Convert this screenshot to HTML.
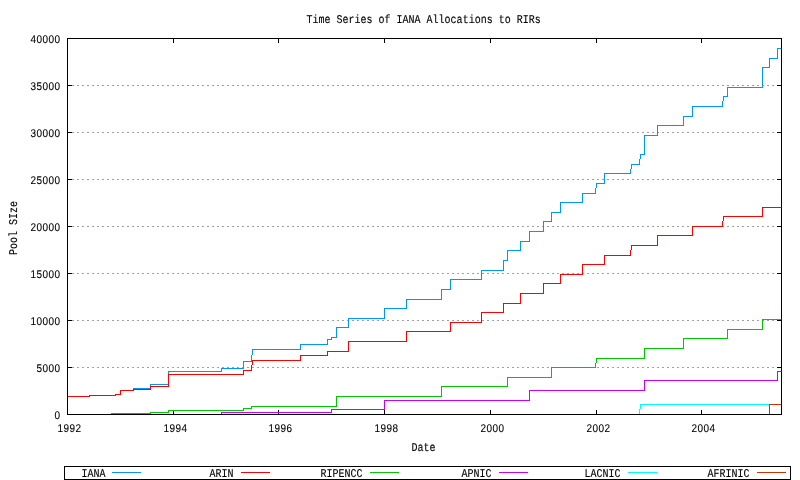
<!DOCTYPE html>
<html><head><meta charset="utf-8"><title>Time Series of IANA Allocations to RIRs</title>
<style>
html,body{margin:0;padding:0;background:#fff;}
body{width:800px;height:480px;position:relative;overflow:hidden;font-family:"Liberation Mono",monospace;}
svg.t{will-change:transform;opacity:0.999;}
svg.t text{text-rendering:geometricPrecision;font-family:"Liberation Mono",monospace;font-size:10px;fill:#000;stroke:#000;stroke-width:0.12px;}
svg.t text.n{stroke-width:0.1px;font-family:"Liberation Sans",sans-serif;font-size:10px;letter-spacing:0.44px;}
</style></head><body>
<svg width="800" height="480" viewBox="0 0 800 480" shape-rendering="crispEdges" style="position:absolute;left:0;top:0">
<rect width="800" height="480" fill="#fff"/>
<path fill="#a0a0a0" d="M72 85h2v1h-2zM77 85h2v1h-2zM82 85h2v1h-2zM87 85h2v1h-2zM92 85h2v1h-2zM97 85h2v1h-2zM102 85h2v1h-2zM107 85h2v1h-2zM112 85h2v1h-2zM117 85h2v1h-2zM122 85h2v1h-2zM127 85h2v1h-2zM132 85h2v1h-2zM137 85h2v1h-2zM142 85h2v1h-2zM147 85h2v1h-2zM152 85h2v1h-2zM157 85h2v1h-2zM162 85h2v1h-2zM167 85h2v1h-2zM172 85h2v1h-2zM177 85h2v1h-2zM182 85h2v1h-2zM187 85h2v1h-2zM192 85h2v1h-2zM197 85h2v1h-2zM202 85h2v1h-2zM207 85h2v1h-2zM212 85h2v1h-2zM217 85h2v1h-2zM222 85h2v1h-2zM227 85h2v1h-2zM232 85h2v1h-2zM237 85h2v1h-2zM242 85h2v1h-2zM247 85h2v1h-2zM252 85h2v1h-2zM257 85h2v1h-2zM262 85h2v1h-2zM267 85h2v1h-2zM272 85h2v1h-2zM277 85h2v1h-2zM282 85h2v1h-2zM287 85h2v1h-2zM292 85h2v1h-2zM297 85h2v1h-2zM302 85h2v1h-2zM307 85h2v1h-2zM312 85h2v1h-2zM317 85h2v1h-2zM322 85h2v1h-2zM327 85h2v1h-2zM332 85h2v1h-2zM337 85h2v1h-2zM342 85h2v1h-2zM347 85h2v1h-2zM352 85h2v1h-2zM357 85h2v1h-2zM362 85h2v1h-2zM367 85h2v1h-2zM372 85h2v1h-2zM377 85h2v1h-2zM382 85h2v1h-2zM387 85h2v1h-2zM392 85h2v1h-2zM397 85h2v1h-2zM402 85h2v1h-2zM407 85h2v1h-2zM412 85h2v1h-2zM417 85h2v1h-2zM422 85h2v1h-2zM427 85h2v1h-2zM432 85h2v1h-2zM437 85h2v1h-2zM442 85h2v1h-2zM447 85h2v1h-2zM452 85h2v1h-2zM457 85h2v1h-2zM462 85h2v1h-2zM467 85h2v1h-2zM472 85h2v1h-2zM477 85h2v1h-2zM482 85h2v1h-2zM487 85h2v1h-2zM492 85h2v1h-2zM497 85h2v1h-2zM502 85h2v1h-2zM507 85h2v1h-2zM512 85h2v1h-2zM517 85h2v1h-2zM522 85h2v1h-2zM527 85h2v1h-2zM532 85h2v1h-2zM537 85h2v1h-2zM542 85h2v1h-2zM547 85h2v1h-2zM552 85h2v1h-2zM557 85h2v1h-2zM562 85h2v1h-2zM567 85h2v1h-2zM572 85h2v1h-2zM577 85h2v1h-2zM582 85h2v1h-2zM587 85h2v1h-2zM592 85h2v1h-2zM597 85h2v1h-2zM602 85h2v1h-2zM607 85h2v1h-2zM612 85h2v1h-2zM617 85h2v1h-2zM622 85h2v1h-2zM627 85h2v1h-2zM632 85h2v1h-2zM637 85h2v1h-2zM642 85h2v1h-2zM647 85h2v1h-2zM652 85h2v1h-2zM657 85h2v1h-2zM662 85h2v1h-2zM667 85h2v1h-2zM672 85h2v1h-2zM677 85h2v1h-2zM682 85h2v1h-2zM687 85h2v1h-2zM692 85h2v1h-2zM697 85h2v1h-2zM702 85h2v1h-2zM707 85h2v1h-2zM712 85h2v1h-2zM717 85h2v1h-2zM722 85h2v1h-2zM727 85h2v1h-2zM732 85h2v1h-2zM737 85h2v1h-2zM742 85h2v1h-2zM747 85h2v1h-2zM752 85h2v1h-2zM757 85h2v1h-2zM762 85h2v1h-2zM767 85h2v1h-2zM772 85h2v1h-2zM72 132h2v1h-2zM77 132h2v1h-2zM82 132h2v1h-2zM87 132h2v1h-2zM92 132h2v1h-2zM97 132h2v1h-2zM102 132h2v1h-2zM107 132h2v1h-2zM112 132h2v1h-2zM117 132h2v1h-2zM122 132h2v1h-2zM127 132h2v1h-2zM132 132h2v1h-2zM137 132h2v1h-2zM142 132h2v1h-2zM147 132h2v1h-2zM152 132h2v1h-2zM157 132h2v1h-2zM162 132h2v1h-2zM167 132h2v1h-2zM172 132h2v1h-2zM177 132h2v1h-2zM182 132h2v1h-2zM187 132h2v1h-2zM192 132h2v1h-2zM197 132h2v1h-2zM202 132h2v1h-2zM207 132h2v1h-2zM212 132h2v1h-2zM217 132h2v1h-2zM222 132h2v1h-2zM227 132h2v1h-2zM232 132h2v1h-2zM237 132h2v1h-2zM242 132h2v1h-2zM247 132h2v1h-2zM252 132h2v1h-2zM257 132h2v1h-2zM262 132h2v1h-2zM267 132h2v1h-2zM272 132h2v1h-2zM277 132h2v1h-2zM282 132h2v1h-2zM287 132h2v1h-2zM292 132h2v1h-2zM297 132h2v1h-2zM302 132h2v1h-2zM307 132h2v1h-2zM312 132h2v1h-2zM317 132h2v1h-2zM322 132h2v1h-2zM327 132h2v1h-2zM332 132h2v1h-2zM337 132h2v1h-2zM342 132h2v1h-2zM347 132h2v1h-2zM352 132h2v1h-2zM357 132h2v1h-2zM362 132h2v1h-2zM367 132h2v1h-2zM372 132h2v1h-2zM377 132h2v1h-2zM382 132h2v1h-2zM387 132h2v1h-2zM392 132h2v1h-2zM397 132h2v1h-2zM402 132h2v1h-2zM407 132h2v1h-2zM412 132h2v1h-2zM417 132h2v1h-2zM422 132h2v1h-2zM427 132h2v1h-2zM432 132h2v1h-2zM437 132h2v1h-2zM442 132h2v1h-2zM447 132h2v1h-2zM452 132h2v1h-2zM457 132h2v1h-2zM462 132h2v1h-2zM467 132h2v1h-2zM472 132h2v1h-2zM477 132h2v1h-2zM482 132h2v1h-2zM487 132h2v1h-2zM492 132h2v1h-2zM497 132h2v1h-2zM502 132h2v1h-2zM507 132h2v1h-2zM512 132h2v1h-2zM517 132h2v1h-2zM522 132h2v1h-2zM527 132h2v1h-2zM532 132h2v1h-2zM537 132h2v1h-2zM542 132h2v1h-2zM547 132h2v1h-2zM552 132h2v1h-2zM557 132h2v1h-2zM562 132h2v1h-2zM567 132h2v1h-2zM572 132h2v1h-2zM577 132h2v1h-2zM582 132h2v1h-2zM587 132h2v1h-2zM592 132h2v1h-2zM597 132h2v1h-2zM602 132h2v1h-2zM607 132h2v1h-2zM612 132h2v1h-2zM617 132h2v1h-2zM622 132h2v1h-2zM627 132h2v1h-2zM632 132h2v1h-2zM637 132h2v1h-2zM642 132h2v1h-2zM647 132h2v1h-2zM652 132h2v1h-2zM657 132h2v1h-2zM662 132h2v1h-2zM667 132h2v1h-2zM672 132h2v1h-2zM677 132h2v1h-2zM682 132h2v1h-2zM687 132h2v1h-2zM692 132h2v1h-2zM697 132h2v1h-2zM702 132h2v1h-2zM707 132h2v1h-2zM712 132h2v1h-2zM717 132h2v1h-2zM722 132h2v1h-2zM727 132h2v1h-2zM732 132h2v1h-2zM737 132h2v1h-2zM742 132h2v1h-2zM747 132h2v1h-2zM752 132h2v1h-2zM757 132h2v1h-2zM762 132h2v1h-2zM767 132h2v1h-2zM772 132h2v1h-2zM72 179h2v1h-2zM77 179h2v1h-2zM82 179h2v1h-2zM87 179h2v1h-2zM92 179h2v1h-2zM97 179h2v1h-2zM102 179h2v1h-2zM107 179h2v1h-2zM112 179h2v1h-2zM117 179h2v1h-2zM122 179h2v1h-2zM127 179h2v1h-2zM132 179h2v1h-2zM137 179h2v1h-2zM142 179h2v1h-2zM147 179h2v1h-2zM152 179h2v1h-2zM157 179h2v1h-2zM162 179h2v1h-2zM167 179h2v1h-2zM172 179h2v1h-2zM177 179h2v1h-2zM182 179h2v1h-2zM187 179h2v1h-2zM192 179h2v1h-2zM197 179h2v1h-2zM202 179h2v1h-2zM207 179h2v1h-2zM212 179h2v1h-2zM217 179h2v1h-2zM222 179h2v1h-2zM227 179h2v1h-2zM232 179h2v1h-2zM237 179h2v1h-2zM242 179h2v1h-2zM247 179h2v1h-2zM252 179h2v1h-2zM257 179h2v1h-2zM262 179h2v1h-2zM267 179h2v1h-2zM272 179h2v1h-2zM277 179h2v1h-2zM282 179h2v1h-2zM287 179h2v1h-2zM292 179h2v1h-2zM297 179h2v1h-2zM302 179h2v1h-2zM307 179h2v1h-2zM312 179h2v1h-2zM317 179h2v1h-2zM322 179h2v1h-2zM327 179h2v1h-2zM332 179h2v1h-2zM337 179h2v1h-2zM342 179h2v1h-2zM347 179h2v1h-2zM352 179h2v1h-2zM357 179h2v1h-2zM362 179h2v1h-2zM367 179h2v1h-2zM372 179h2v1h-2zM377 179h2v1h-2zM382 179h2v1h-2zM387 179h2v1h-2zM392 179h2v1h-2zM397 179h2v1h-2zM402 179h2v1h-2zM407 179h2v1h-2zM412 179h2v1h-2zM417 179h2v1h-2zM422 179h2v1h-2zM427 179h2v1h-2zM432 179h2v1h-2zM437 179h2v1h-2zM442 179h2v1h-2zM447 179h2v1h-2zM452 179h2v1h-2zM457 179h2v1h-2zM462 179h2v1h-2zM467 179h2v1h-2zM472 179h2v1h-2zM477 179h2v1h-2zM482 179h2v1h-2zM487 179h2v1h-2zM492 179h2v1h-2zM497 179h2v1h-2zM502 179h2v1h-2zM507 179h2v1h-2zM512 179h2v1h-2zM517 179h2v1h-2zM522 179h2v1h-2zM527 179h2v1h-2zM532 179h2v1h-2zM537 179h2v1h-2zM542 179h2v1h-2zM547 179h2v1h-2zM552 179h2v1h-2zM557 179h2v1h-2zM562 179h2v1h-2zM567 179h2v1h-2zM572 179h2v1h-2zM577 179h2v1h-2zM582 179h2v1h-2zM587 179h2v1h-2zM592 179h2v1h-2zM597 179h2v1h-2zM602 179h2v1h-2zM607 179h2v1h-2zM612 179h2v1h-2zM617 179h2v1h-2zM622 179h2v1h-2zM627 179h2v1h-2zM632 179h2v1h-2zM637 179h2v1h-2zM642 179h2v1h-2zM647 179h2v1h-2zM652 179h2v1h-2zM657 179h2v1h-2zM662 179h2v1h-2zM667 179h2v1h-2zM672 179h2v1h-2zM677 179h2v1h-2zM682 179h2v1h-2zM687 179h2v1h-2zM692 179h2v1h-2zM697 179h2v1h-2zM702 179h2v1h-2zM707 179h2v1h-2zM712 179h2v1h-2zM717 179h2v1h-2zM722 179h2v1h-2zM727 179h2v1h-2zM732 179h2v1h-2zM737 179h2v1h-2zM742 179h2v1h-2zM747 179h2v1h-2zM752 179h2v1h-2zM757 179h2v1h-2zM762 179h2v1h-2zM767 179h2v1h-2zM772 179h2v1h-2zM72 226h2v1h-2zM77 226h2v1h-2zM82 226h2v1h-2zM87 226h2v1h-2zM92 226h2v1h-2zM97 226h2v1h-2zM102 226h2v1h-2zM107 226h2v1h-2zM112 226h2v1h-2zM117 226h2v1h-2zM122 226h2v1h-2zM127 226h2v1h-2zM132 226h2v1h-2zM137 226h2v1h-2zM142 226h2v1h-2zM147 226h2v1h-2zM152 226h2v1h-2zM157 226h2v1h-2zM162 226h2v1h-2zM167 226h2v1h-2zM172 226h2v1h-2zM177 226h2v1h-2zM182 226h2v1h-2zM187 226h2v1h-2zM192 226h2v1h-2zM197 226h2v1h-2zM202 226h2v1h-2zM207 226h2v1h-2zM212 226h2v1h-2zM217 226h2v1h-2zM222 226h2v1h-2zM227 226h2v1h-2zM232 226h2v1h-2zM237 226h2v1h-2zM242 226h2v1h-2zM247 226h2v1h-2zM252 226h2v1h-2zM257 226h2v1h-2zM262 226h2v1h-2zM267 226h2v1h-2zM272 226h2v1h-2zM277 226h2v1h-2zM282 226h2v1h-2zM287 226h2v1h-2zM292 226h2v1h-2zM297 226h2v1h-2zM302 226h2v1h-2zM307 226h2v1h-2zM312 226h2v1h-2zM317 226h2v1h-2zM322 226h2v1h-2zM327 226h2v1h-2zM332 226h2v1h-2zM337 226h2v1h-2zM342 226h2v1h-2zM347 226h2v1h-2zM352 226h2v1h-2zM357 226h2v1h-2zM362 226h2v1h-2zM367 226h2v1h-2zM372 226h2v1h-2zM377 226h2v1h-2zM382 226h2v1h-2zM387 226h2v1h-2zM392 226h2v1h-2zM397 226h2v1h-2zM402 226h2v1h-2zM407 226h2v1h-2zM412 226h2v1h-2zM417 226h2v1h-2zM422 226h2v1h-2zM427 226h2v1h-2zM432 226h2v1h-2zM437 226h2v1h-2zM442 226h2v1h-2zM447 226h2v1h-2zM452 226h2v1h-2zM457 226h2v1h-2zM462 226h2v1h-2zM467 226h2v1h-2zM472 226h2v1h-2zM477 226h2v1h-2zM482 226h2v1h-2zM487 226h2v1h-2zM492 226h2v1h-2zM497 226h2v1h-2zM502 226h2v1h-2zM507 226h2v1h-2zM512 226h2v1h-2zM517 226h2v1h-2zM522 226h2v1h-2zM527 226h2v1h-2zM532 226h2v1h-2zM537 226h2v1h-2zM542 226h2v1h-2zM547 226h2v1h-2zM552 226h2v1h-2zM557 226h2v1h-2zM562 226h2v1h-2zM567 226h2v1h-2zM572 226h2v1h-2zM577 226h2v1h-2zM582 226h2v1h-2zM587 226h2v1h-2zM592 226h2v1h-2zM597 226h2v1h-2zM602 226h2v1h-2zM607 226h2v1h-2zM612 226h2v1h-2zM617 226h2v1h-2zM622 226h2v1h-2zM627 226h2v1h-2zM632 226h2v1h-2zM637 226h2v1h-2zM642 226h2v1h-2zM647 226h2v1h-2zM652 226h2v1h-2zM657 226h2v1h-2zM662 226h2v1h-2zM667 226h2v1h-2zM672 226h2v1h-2zM677 226h2v1h-2zM682 226h2v1h-2zM687 226h2v1h-2zM692 226h2v1h-2zM697 226h2v1h-2zM702 226h2v1h-2zM707 226h2v1h-2zM712 226h2v1h-2zM717 226h2v1h-2zM722 226h2v1h-2zM727 226h2v1h-2zM732 226h2v1h-2zM737 226h2v1h-2zM742 226h2v1h-2zM747 226h2v1h-2zM752 226h2v1h-2zM757 226h2v1h-2zM762 226h2v1h-2zM767 226h2v1h-2zM772 226h2v1h-2zM72 273h2v1h-2zM77 273h2v1h-2zM82 273h2v1h-2zM87 273h2v1h-2zM92 273h2v1h-2zM97 273h2v1h-2zM102 273h2v1h-2zM107 273h2v1h-2zM112 273h2v1h-2zM117 273h2v1h-2zM122 273h2v1h-2zM127 273h2v1h-2zM132 273h2v1h-2zM137 273h2v1h-2zM142 273h2v1h-2zM147 273h2v1h-2zM152 273h2v1h-2zM157 273h2v1h-2zM162 273h2v1h-2zM167 273h2v1h-2zM172 273h2v1h-2zM177 273h2v1h-2zM182 273h2v1h-2zM187 273h2v1h-2zM192 273h2v1h-2zM197 273h2v1h-2zM202 273h2v1h-2zM207 273h2v1h-2zM212 273h2v1h-2zM217 273h2v1h-2zM222 273h2v1h-2zM227 273h2v1h-2zM232 273h2v1h-2zM237 273h2v1h-2zM242 273h2v1h-2zM247 273h2v1h-2zM252 273h2v1h-2zM257 273h2v1h-2zM262 273h2v1h-2zM267 273h2v1h-2zM272 273h2v1h-2zM277 273h2v1h-2zM282 273h2v1h-2zM287 273h2v1h-2zM292 273h2v1h-2zM297 273h2v1h-2zM302 273h2v1h-2zM307 273h2v1h-2zM312 273h2v1h-2zM317 273h2v1h-2zM322 273h2v1h-2zM327 273h2v1h-2zM332 273h2v1h-2zM337 273h2v1h-2zM342 273h2v1h-2zM347 273h2v1h-2zM352 273h2v1h-2zM357 273h2v1h-2zM362 273h2v1h-2zM367 273h2v1h-2zM372 273h2v1h-2zM377 273h2v1h-2zM382 273h2v1h-2zM387 273h2v1h-2zM392 273h2v1h-2zM397 273h2v1h-2zM402 273h2v1h-2zM407 273h2v1h-2zM412 273h2v1h-2zM417 273h2v1h-2zM422 273h2v1h-2zM427 273h2v1h-2zM432 273h2v1h-2zM437 273h2v1h-2zM442 273h2v1h-2zM447 273h2v1h-2zM452 273h2v1h-2zM457 273h2v1h-2zM462 273h2v1h-2zM467 273h2v1h-2zM472 273h2v1h-2zM477 273h2v1h-2zM482 273h2v1h-2zM487 273h2v1h-2zM492 273h2v1h-2zM497 273h2v1h-2zM502 273h2v1h-2zM507 273h2v1h-2zM512 273h2v1h-2zM517 273h2v1h-2zM522 273h2v1h-2zM527 273h2v1h-2zM532 273h2v1h-2zM537 273h2v1h-2zM542 273h2v1h-2zM547 273h2v1h-2zM552 273h2v1h-2zM557 273h2v1h-2zM562 273h2v1h-2zM567 273h2v1h-2zM572 273h2v1h-2zM577 273h2v1h-2zM582 273h2v1h-2zM587 273h2v1h-2zM592 273h2v1h-2zM597 273h2v1h-2zM602 273h2v1h-2zM607 273h2v1h-2zM612 273h2v1h-2zM617 273h2v1h-2zM622 273h2v1h-2zM627 273h2v1h-2zM632 273h2v1h-2zM637 273h2v1h-2zM642 273h2v1h-2zM647 273h2v1h-2zM652 273h2v1h-2zM657 273h2v1h-2zM662 273h2v1h-2zM667 273h2v1h-2zM672 273h2v1h-2zM677 273h2v1h-2zM682 273h2v1h-2zM687 273h2v1h-2zM692 273h2v1h-2zM697 273h2v1h-2zM702 273h2v1h-2zM707 273h2v1h-2zM712 273h2v1h-2zM717 273h2v1h-2zM722 273h2v1h-2zM727 273h2v1h-2zM732 273h2v1h-2zM737 273h2v1h-2zM742 273h2v1h-2zM747 273h2v1h-2zM752 273h2v1h-2zM757 273h2v1h-2zM762 273h2v1h-2zM767 273h2v1h-2zM772 273h2v1h-2zM72 320h2v1h-2zM77 320h2v1h-2zM82 320h2v1h-2zM87 320h2v1h-2zM92 320h2v1h-2zM97 320h2v1h-2zM102 320h2v1h-2zM107 320h2v1h-2zM112 320h2v1h-2zM117 320h2v1h-2zM122 320h2v1h-2zM127 320h2v1h-2zM132 320h2v1h-2zM137 320h2v1h-2zM142 320h2v1h-2zM147 320h2v1h-2zM152 320h2v1h-2zM157 320h2v1h-2zM162 320h2v1h-2zM167 320h2v1h-2zM172 320h2v1h-2zM177 320h2v1h-2zM182 320h2v1h-2zM187 320h2v1h-2zM192 320h2v1h-2zM197 320h2v1h-2zM202 320h2v1h-2zM207 320h2v1h-2zM212 320h2v1h-2zM217 320h2v1h-2zM222 320h2v1h-2zM227 320h2v1h-2zM232 320h2v1h-2zM237 320h2v1h-2zM242 320h2v1h-2zM247 320h2v1h-2zM252 320h2v1h-2zM257 320h2v1h-2zM262 320h2v1h-2zM267 320h2v1h-2zM272 320h2v1h-2zM277 320h2v1h-2zM282 320h2v1h-2zM287 320h2v1h-2zM292 320h2v1h-2zM297 320h2v1h-2zM302 320h2v1h-2zM307 320h2v1h-2zM312 320h2v1h-2zM317 320h2v1h-2zM322 320h2v1h-2zM327 320h2v1h-2zM332 320h2v1h-2zM337 320h2v1h-2zM342 320h2v1h-2zM347 320h2v1h-2zM352 320h2v1h-2zM357 320h2v1h-2zM362 320h2v1h-2zM367 320h2v1h-2zM372 320h2v1h-2zM377 320h2v1h-2zM382 320h2v1h-2zM387 320h2v1h-2zM392 320h2v1h-2zM397 320h2v1h-2zM402 320h2v1h-2zM407 320h2v1h-2zM412 320h2v1h-2zM417 320h2v1h-2zM422 320h2v1h-2zM427 320h2v1h-2zM432 320h2v1h-2zM437 320h2v1h-2zM442 320h2v1h-2zM447 320h2v1h-2zM452 320h2v1h-2zM457 320h2v1h-2zM462 320h2v1h-2zM467 320h2v1h-2zM472 320h2v1h-2zM477 320h2v1h-2zM482 320h2v1h-2zM487 320h2v1h-2zM492 320h2v1h-2zM497 320h2v1h-2zM502 320h2v1h-2zM507 320h2v1h-2zM512 320h2v1h-2zM517 320h2v1h-2zM522 320h2v1h-2zM527 320h2v1h-2zM532 320h2v1h-2zM537 320h2v1h-2zM542 320h2v1h-2zM547 320h2v1h-2zM552 320h2v1h-2zM557 320h2v1h-2zM562 320h2v1h-2zM567 320h2v1h-2zM572 320h2v1h-2zM577 320h2v1h-2zM582 320h2v1h-2zM587 320h2v1h-2zM592 320h2v1h-2zM597 320h2v1h-2zM602 320h2v1h-2zM607 320h2v1h-2zM612 320h2v1h-2zM617 320h2v1h-2zM622 320h2v1h-2zM627 320h2v1h-2zM632 320h2v1h-2zM637 320h2v1h-2zM642 320h2v1h-2zM647 320h2v1h-2zM652 320h2v1h-2zM657 320h2v1h-2zM662 320h2v1h-2zM667 320h2v1h-2zM672 320h2v1h-2zM677 320h2v1h-2zM682 320h2v1h-2zM687 320h2v1h-2zM692 320h2v1h-2zM697 320h2v1h-2zM702 320h2v1h-2zM707 320h2v1h-2zM712 320h2v1h-2zM717 320h2v1h-2zM722 320h2v1h-2zM727 320h2v1h-2zM732 320h2v1h-2zM737 320h2v1h-2zM742 320h2v1h-2zM747 320h2v1h-2zM752 320h2v1h-2zM757 320h2v1h-2zM762 320h2v1h-2zM767 320h2v1h-2zM772 320h2v1h-2zM72 367h2v1h-2zM77 367h2v1h-2zM82 367h2v1h-2zM87 367h2v1h-2zM92 367h2v1h-2zM97 367h2v1h-2zM102 367h2v1h-2zM107 367h2v1h-2zM112 367h2v1h-2zM117 367h2v1h-2zM122 367h2v1h-2zM127 367h2v1h-2zM132 367h2v1h-2zM137 367h2v1h-2zM142 367h2v1h-2zM147 367h2v1h-2zM152 367h2v1h-2zM157 367h2v1h-2zM162 367h2v1h-2zM167 367h2v1h-2zM172 367h2v1h-2zM177 367h2v1h-2zM182 367h2v1h-2zM187 367h2v1h-2zM192 367h2v1h-2zM197 367h2v1h-2zM202 367h2v1h-2zM207 367h2v1h-2zM212 367h2v1h-2zM217 367h2v1h-2zM222 367h2v1h-2zM227 367h2v1h-2zM232 367h2v1h-2zM237 367h2v1h-2zM242 367h2v1h-2zM247 367h2v1h-2zM252 367h2v1h-2zM257 367h2v1h-2zM262 367h2v1h-2zM267 367h2v1h-2zM272 367h2v1h-2zM277 367h2v1h-2zM282 367h2v1h-2zM287 367h2v1h-2zM292 367h2v1h-2zM297 367h2v1h-2zM302 367h2v1h-2zM307 367h2v1h-2zM312 367h2v1h-2zM317 367h2v1h-2zM322 367h2v1h-2zM327 367h2v1h-2zM332 367h2v1h-2zM337 367h2v1h-2zM342 367h2v1h-2zM347 367h2v1h-2zM352 367h2v1h-2zM357 367h2v1h-2zM362 367h2v1h-2zM367 367h2v1h-2zM372 367h2v1h-2zM377 367h2v1h-2zM382 367h2v1h-2zM387 367h2v1h-2zM392 367h2v1h-2zM397 367h2v1h-2zM402 367h2v1h-2zM407 367h2v1h-2zM412 367h2v1h-2zM417 367h2v1h-2zM422 367h2v1h-2zM427 367h2v1h-2zM432 367h2v1h-2zM437 367h2v1h-2zM442 367h2v1h-2zM447 367h2v1h-2zM452 367h2v1h-2zM457 367h2v1h-2zM462 367h2v1h-2zM467 367h2v1h-2zM472 367h2v1h-2zM477 367h2v1h-2zM482 367h2v1h-2zM487 367h2v1h-2zM492 367h2v1h-2zM497 367h2v1h-2zM502 367h2v1h-2zM507 367h2v1h-2zM512 367h2v1h-2zM517 367h2v1h-2zM522 367h2v1h-2zM527 367h2v1h-2zM532 367h2v1h-2zM537 367h2v1h-2zM542 367h2v1h-2zM547 367h2v1h-2zM552 367h2v1h-2zM557 367h2v1h-2zM562 367h2v1h-2zM567 367h2v1h-2zM572 367h2v1h-2zM577 367h2v1h-2zM582 367h2v1h-2zM587 367h2v1h-2zM592 367h2v1h-2zM597 367h2v1h-2zM602 367h2v1h-2zM607 367h2v1h-2zM612 367h2v1h-2zM617 367h2v1h-2zM622 367h2v1h-2zM627 367h2v1h-2zM632 367h2v1h-2zM637 367h2v1h-2zM642 367h2v1h-2zM647 367h2v1h-2zM652 367h2v1h-2zM657 367h2v1h-2zM662 367h2v1h-2zM667 367h2v1h-2zM672 367h2v1h-2zM677 367h2v1h-2zM682 367h2v1h-2zM687 367h2v1h-2zM692 367h2v1h-2zM697 367h2v1h-2zM702 367h2v1h-2zM707 367h2v1h-2zM712 367h2v1h-2zM717 367h2v1h-2zM722 367h2v1h-2zM727 367h2v1h-2zM732 367h2v1h-2zM737 367h2v1h-2zM742 367h2v1h-2zM747 367h2v1h-2zM752 367h2v1h-2zM757 367h2v1h-2zM762 367h2v1h-2zM767 367h2v1h-2zM772 367h2v1h-2z"/>
<path fill="#000" d="M67 38h715v1h-715zM67 414h715v1h-715zM67 38h1v377h-1zM781 38h1v377h-1zM67 38h5v1h-5zM777 38h5v1h-5zM67 85h5v1h-5zM777 85h5v1h-5zM67 132h5v1h-5zM777 132h5v1h-5zM67 179h5v1h-5zM777 179h5v1h-5zM67 226h5v1h-5zM777 226h5v1h-5zM67 273h5v1h-5zM777 273h5v1h-5zM67 320h5v1h-5zM777 320h5v1h-5zM67 367h5v1h-5zM777 367h5v1h-5zM67 414h5v1h-5zM777 414h5v1h-5zM67 410h1v5h-1zM67 38h1v5h-1zM173 410h1v5h-1zM173 38h1v5h-1zM278 410h1v5h-1zM278 38h1v5h-1zM384 410h1v5h-1zM384 38h1v5h-1zM490 410h1v5h-1zM490 38h1v5h-1zM596 410h1v5h-1zM596 38h1v5h-1zM701 410h1v5h-1zM701 38h1v5h-1z"/>
<path fill="#0096ff" d="M68 396h22v1h-22zM89 395h1v2h-1zM89 395h27v1h-27zM115 394h1v2h-1zM115 394h6v1h-6zM120 390h1v5h-1zM120 390h14v1h-14zM133 388h1v3h-1zM133 388h18v1h-18zM150 384h1v5h-1zM150 384h19v1h-19zM168 371h1v14h-1zM168 371h54v1h-54zM221 368h1v4h-1zM221 368h23v1h-23zM243 361h1v8h-1zM243 361h9v1h-9zM251 355h1v7h-1zM252 349h1v6h-1zM252 349h49v1h-49zM300 344h1v6h-1zM300 344h28v1h-28zM327 339h1v6h-1zM327 339h5v1h-5zM331 337h1v3h-1zM331 337h6v1h-6zM336 327h1v11h-1zM336 327h13v1h-13zM348 318h1v10h-1zM348 318h37v1h-37zM384 308h1v11h-1zM384 308h23v1h-23zM406 299h1v10h-1zM406 299h36v1h-36zM441 289h1v11h-1zM441 289h10v1h-10zM450 279h1v11h-1zM450 279h32v1h-32zM481 270h1v10h-1zM481 270h23v1h-23zM503 260h1v11h-1zM503 260h5v1h-5zM507 250h1v11h-1zM507 250h14v1h-14zM520 241h1v10h-1zM520 241h10v1h-10zM529 231h1v11h-1zM529 231h15v1h-15zM543 221h1v11h-1zM543 221h9v1h-9zM551 212h1v10h-1zM551 212h10v1h-10zM560 202h1v11h-1zM560 202h23v1h-23zM582 193h1v10h-1zM582 193h14v1h-14zM595 188h1v6h-1zM596 183h1v5h-1zM596 183h9v1h-9zM604 173h1v11h-1zM604 173h27v1h-27zM630 169h1v5h-1zM631 164h1v5h-1zM631 164h9v1h-9zM639 159h1v6h-1zM640 154h1v5h-1zM640 154h5v1h-5zM644 135h1v20h-1zM644 135h14v1h-14zM657 125h1v11h-1zM657 125h27v1h-27zM683 116h1v10h-1zM683 116h10v1h-10zM692 106h1v11h-1zM692 106h31v1h-31zM722 101h1v6h-1zM723 96h1v5h-1zM723 96h5v1h-5zM727 87h1v10h-1zM727 87h36v1h-36zM762 67h1v21h-1zM762 67h8v1h-8zM769 58h1v10h-1zM769 58h9v1h-9zM777 48h1v11h-1zM777 48h4v1h-4z"/>
<path fill="#ff0000" d="M68 396h22v1h-22zM89 395h1v2h-1zM89 395h27v1h-27zM115 394h1v2h-1zM115 394h6v1h-6zM120 390h1v5h-1zM120 390h14v1h-14zM133 389h1v2h-1zM133 389h18v1h-18zM150 386h1v4h-1zM150 386h19v1h-19zM168 374h1v13h-1zM168 374h76v1h-76zM243 370h1v5h-1zM243 370h9v1h-9zM251 365h1v6h-1zM252 360h1v5h-1zM252 360h49v1h-49zM300 355h1v6h-1zM300 355h28v1h-28zM327 351h1v5h-1zM327 351h22v1h-22zM348 341h1v11h-1zM348 341h59v1h-59zM406 331h1v11h-1zM406 331h45v1h-45zM450 322h1v10h-1zM450 322h32v1h-32zM481 312h1v11h-1zM481 312h23v1h-23zM503 303h1v10h-1zM503 303h18v1h-18zM520 293h1v11h-1zM520 293h24v1h-24zM543 283h1v11h-1zM543 283h18v1h-18zM560 274h1v10h-1zM560 274h23v1h-23zM582 264h1v11h-1zM582 264h23v1h-23zM604 255h1v10h-1zM604 255h27v1h-27zM630 250h1v6h-1zM631 245h1v5h-1zM631 245h27v1h-27zM657 235h1v11h-1zM657 235h36v1h-36zM692 226h1v10h-1zM692 226h31v1h-31zM722 221h1v6h-1zM723 216h1v5h-1zM723 216h40v1h-40zM762 207h1v10h-1zM762 207h19v1h-19z"/>
<path fill="#00c800" d="M111 413h40v1h-40zM150 412h1v2h-1zM150 412h19v1h-19zM168 410h1v3h-1zM168 410h76v1h-76zM243 408h1v3h-1zM243 408h9v1h-9zM251 406h1v3h-1zM251 406h86v1h-86zM336 396h1v11h-1zM336 396h106v1h-106zM441 386h1v11h-1zM441 386h67v1h-67zM507 377h1v10h-1zM507 377h45v1h-45zM551 367h1v11h-1zM551 367h45v1h-45zM595 363h1v5h-1zM596 358h1v5h-1zM596 358h49v1h-49zM644 348h1v11h-1zM644 348h40v1h-40zM683 338h1v11h-1zM683 338h45v1h-45zM727 329h1v10h-1zM727 329h36v1h-36zM762 319h1v11h-1zM762 319h19v1h-19z"/>
<path fill="#c800ff" d="M221 412h1v2h-1zM221 412h111v1h-111zM331 409h1v4h-1zM331 409h54v1h-54zM384 400h1v10h-1zM384 400h146v1h-146zM529 390h1v11h-1zM529 390h116v1h-116zM644 380h1v11h-1zM644 380h134v1h-134zM777 371h1v10h-1zM777 371h4v1h-4z"/>
<path fill="#00ffff" d="M639 409h1v5h-1zM640 404h1v5h-1zM640 404h141v1h-141z"/>
<path fill="#cc3300" d="M769 404h1v10h-1zM769 404h12v1h-12z"/>
<path fill="#000" d="M64 466h727v1h-727zM64 479h727v1h-727zM64 466h1v14h-1zM790 466h1v14h-1z"/>
<path fill="#0096ff" d="M112 472h29v1h-29z"/>
<path fill="#ff0000" d="M241 472h29v1h-29z"/>
<path fill="#00c800" d="M370 472h29v1h-29z"/>
<path fill="#c800ff" d="M499 472h29v1h-29z"/>
<path fill="#00ffff" d="M628 472h29v1h-29z"/>
<path fill="#cc3300" d="M757 472h29v1h-29z"/>
</svg>
<svg width="800" height="480" viewBox="0 0 800 480" style="position:absolute;left:0;top:0" class="t">
<text transform="translate(306.6,23) scale(1,1.19)" >Time Series of IANA Allocations to RIRs</text>
<text transform="translate(411.6,451) scale(1,1.19)" >Date</text>
<g transform="translate(17.2,254.5) rotate(-90)"><text transform="translate(-0.4,0) scale(1,1.19)" >Pool SIze</text></g>
<text transform="translate(81.6,477) scale(1,1.19)" >IANA</text>
<text transform="translate(209.6,477) scale(1,1.19)" >ARIN</text>
<text transform="translate(320.6,477) scale(1,1.19)" >RIPENCC</text>
<text transform="translate(461.6,477) scale(1,1.19)" >APNIC</text>
<text transform="translate(584.6,477) scale(1,1.19)" >LACNIC</text>
<text transform="translate(707.6,477) scale(1,1.19)" >AFRINIC</text>
<text class="n" transform="translate(30.6,43) scale(1,1.12)">40000</text>
<text class="n" transform="translate(30.6,90) scale(1,1.12)">35000</text>
<text class="n" transform="translate(30.6,137) scale(1,1.12)">30000</text>
<text class="n" transform="translate(30.6,184) scale(1,1.12)">25000</text>
<text class="n" transform="translate(30.6,231) scale(1,1.12)">20000</text>
<text class="n" transform="translate(30.6,278) scale(1,1.12)">15000</text>
<text class="n" transform="translate(30.6,325) scale(1,1.12)">10000</text>
<text class="n" transform="translate(36.6,372) scale(1,1.12)">5000</text>
<text class="n" transform="translate(54.6,419) scale(1,1.12)">0</text>
<text class="n" transform="translate(57.5,432) scale(1,1.12)">1992</text>
<text class="n" transform="translate(163.5,432) scale(1,1.12)">1994</text>
<text class="n" transform="translate(268.5,432) scale(1,1.12)">1996</text>
<text class="n" transform="translate(374.5,432) scale(1,1.12)">1998</text>
<text class="n" transform="translate(480.5,432) scale(1,1.12)">2000</text>
<text class="n" transform="translate(586.5,432) scale(1,1.12)">2002</text>
<text class="n" transform="translate(691.5,432) scale(1,1.12)">2004</text>
</svg>
</body></html>
